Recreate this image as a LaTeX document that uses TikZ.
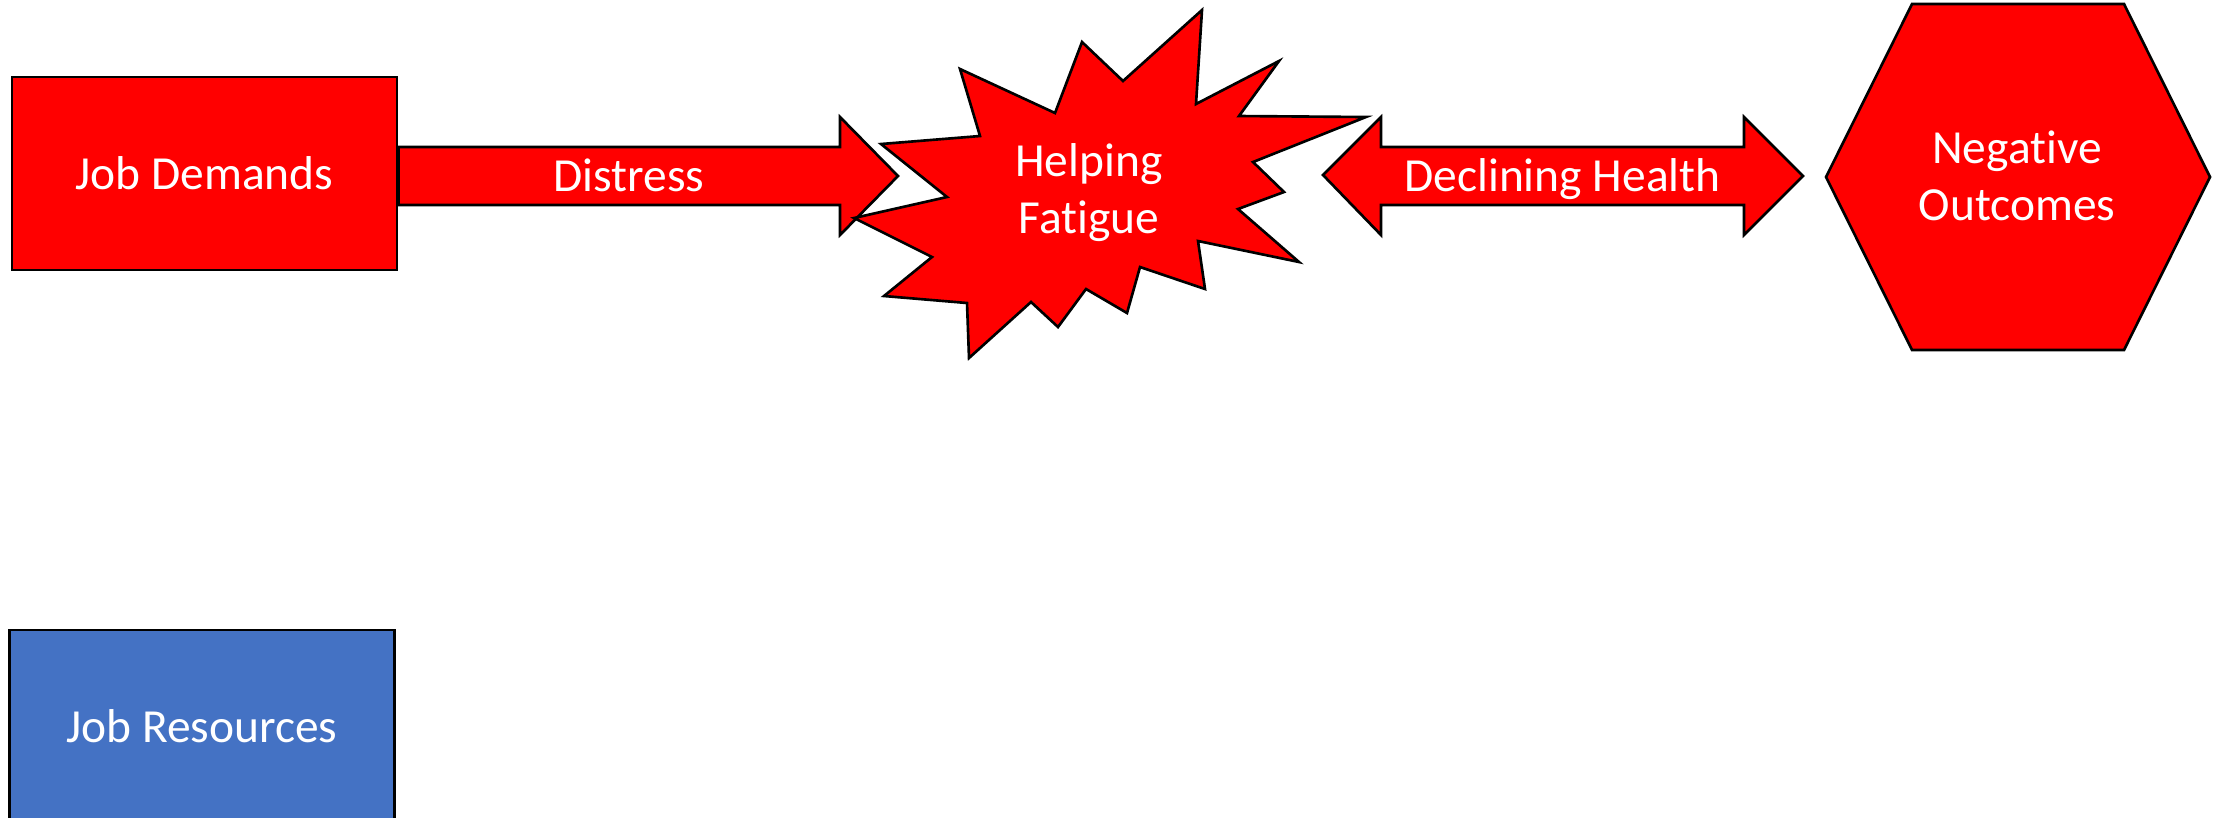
\documentclass[tikz,border=0pt]{standalone}
\usepackage{fontspec}
\setmainfont{Carlito}[Ligatures = NoCommon]
\usetikzlibrary{positioning}
\definecolor{strainred}{HTML}{FF0000}
\definecolor{resourceblue}{HTML}{4472C4}

\begin{document}
\begin{tikzpicture}[
      x = 0.01cm, y = -0.01cm,
      font = \fontsize{13.5}{16.2}\selectfont,
      outline/.style={
        draw = black,
        line width = 0.75pt,
        line join = miter,
      },
      block/.style={
        outline,
        minimum width = 3.85cm,
        minimum height = 1.93cm,
        inner sep = 0pt,
        text = white,
      },
      redshape/.style={
        outline,
        fill = strainred,
      },
      caption/.style={
        text = white,
        inner sep = 0pt,
        align = center,
      },
    ]
    \useasboundingbox (0,0) rectangle (2216,817);

    \node[block, fill = strainred] (demands) at (204.5,173.5) {Job Demands};
    \node[block, fill = resourceblue, below = 3.57cm of demands,
      xshift = -0.025cm] (resources) {Job Resources};

    % distress arrow out of the demands box
    \draw[redshape] (demands.east |- 0,147) -- (840,147) -- (840,117)
      -- (898,176) -- (840,235) -- (840,205) -- (demands.east |- 0,205) -- cycle;
    \node[caption, anchor = base] (distress) at (629,191.7) {Distress};

    % helping fatigue burst
    \draw[redshape] (1202,10) -- (1196,104) -- (1279,61) -- (1239,116)
      -- (1366,117) -- (1253,162) -- (1284,192) -- (1238,209) -- (1299,262)
      -- (1198,241) -- (1205,289) -- (1140,267) -- (1127,313) -- (1086,289)
      -- (1058,327) -- (1031,302) -- (969,358) -- (967,303) -- (884,296)
      -- (932,257) -- (854,218) -- (947,197) -- (881,144) -- (980,136)
      -- (960,69) -- (1055,113) -- (1082,42) -- (1123,81) -- cycle;
    \node[caption] (fatigue) at (1089,192.5) {Helping\\Fatigue};

    % declining health, two heads
    \draw[redshape] (1323,175) -- (1381,117) -- (1381,147) -- (1744,147)
      -- (1744,117) -- (1803,176) -- (1744,235) -- (1744,205) -- (1381,205)
      -- (1381,235) -- cycle;
    \node[caption, anchor = base] (health) at (1562.5,191.7) {Declining Health};

    % outcomes hexagon
    \draw[redshape] (1912,4) -- (2124,4) -- (2210,177) -- (2124,350)
      -- (1912,350) -- (1826,177) -- cycle;
    \node[caption] (outcomes) at (2017,176) {Negative\\Outcomes};
  \end{tikzpicture}
\end{document}
